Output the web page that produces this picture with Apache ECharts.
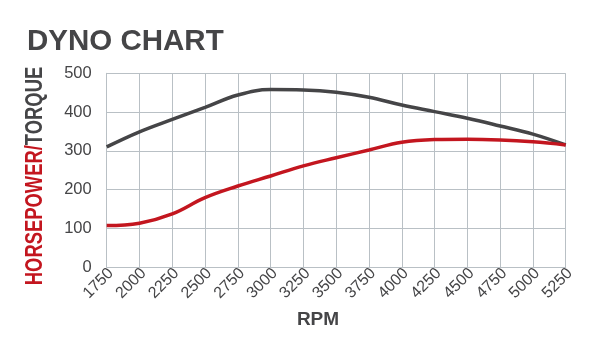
<!DOCTYPE html>
<html>
<head>
<meta charset="utf-8">
<script src="https://cdn.jsdelivr.net/npm/echarts@6/dist/echarts.min.js"></script>
<style>html,body{margin:0;padding:0;background:#fff;}#c{width:612px;height:364px;}</style>
</head>
<body>
<div id="c"></div>
<script>
var rpm = ['1750','2000','2250','2500','2750','3000','3250','3500','3750','4000','4250','4500','4750','5000','5250'];
var torque = [310, 349, 381, 412, 444, 458, 457, 451, 438, 418, 401, 384, 364, 343, 315];
var horsepower = [107, 113, 137, 179, 209, 235, 261, 282, 302, 322, 329, 330, 328, 323, 315];
var yTicks = [0, 100, 200, 300, 400, 500];

var GREY = '#454547';
var RED = '#c3161f';
var GRID = '#b9c0c5';

var chart = echarts.init(document.getElementById('c'), null, {renderer: 'canvas'});
chart.setOption({
  animation: false,
  title: {
    text: 'DYNO CHART', left: 22, top: 22,
    textStyle: {fontFamily: 'Liberation Sans', fontWeight: 'bold', fontSize: 29.5, color: GREY}
  },
  grid: {left: 106.7, right: 46.3, top: 73.3, bottom: 97, containLabel: false},
  xAxis: {
    type: 'category', data: rpm, boundaryGap: false,
    axisLine: {show: true, lineStyle: {color: GRID, width: 1}},
    axisTick: {show: false},
    splitLine: {show: true, lineStyle: {color: GRID, width: 1}},
    axisLabel: {interval: 0, rotate: 45, margin: 8, padding: [0, -6, 0, 0], fontFamily: 'Liberation Sans', fontSize: 16, color: GREY}
  },
  yAxis: {
    type: 'value', min: yTicks[0], max: yTicks[yTicks.length - 1], interval: 100,
    axisLine: {show: true, lineStyle: {color: GRID, width: 1}},
    axisTick: {show: false},
    splitLine: {show: true, lineStyle: {color: GRID, width: 1}},
    axisLabel: {margin: 15, fontFamily: 'Liberation Sans', fontSize: 16.5, color: GREY}
  },
  graphic: [
    {
      type: 'text', x: 36, y: 176, rotation: Math.PI / 2, scaleX: 0.8,
      style: {
        text: '{a|HORSEPOWER/}{b|TORQUE}', align: 'center', verticalAlign: 'middle',
        rich: {
          a: {fill: RED, fontFamily: 'Liberation Sans', fontWeight: 'bold', fontSize: 23},
          b: {fill: GREY, fontFamily: 'Liberation Sans', fontWeight: 'bold', fontSize: 23}
        }
      }
    },
    {
      type: 'text', x: 318, y: 320,
      style: {text: 'RPM', align: 'center', verticalAlign: 'middle', fill: GREY,
        fontFamily: 'Liberation Sans', fontWeight: 'bold', fontSize: 19}
    }
  ],
  series: [
    {name: 'Torque', type: 'line', data: torque, smooth: 0.4, symbol: 'none',
      lineStyle: {color: GREY, width: 3.5}},
    {name: 'Horsepower', type: 'line', data: horsepower, smooth: 0.4, symbol: 'none',
      lineStyle: {color: RED, width: 3.5}}
  ]
});
</script>
</body>
</html>
